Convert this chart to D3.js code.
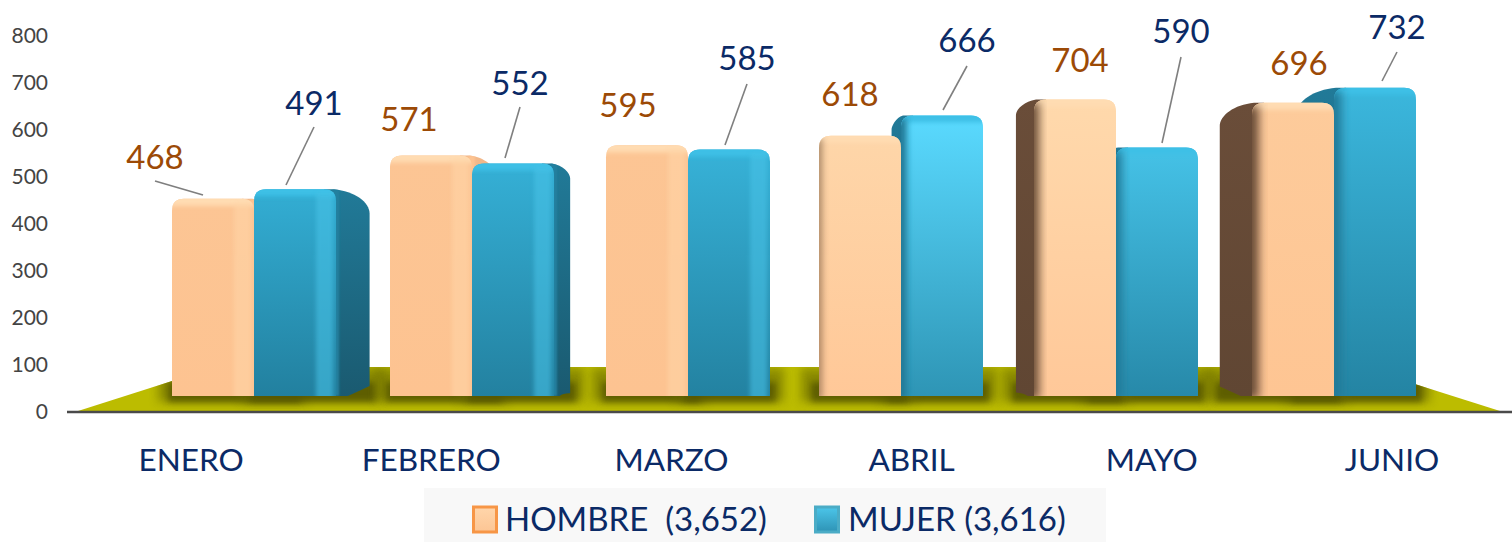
<!DOCTYPE html>
<html><head><meta charset="utf-8">
<script src="https://cdn.jsdelivr.net/npm/d3@7"></script>
<style>html,body{margin:0;background:#fff;overflow:hidden}svg{display:block}text{font-family:Lato,Carlito,sans-serif}</style>
</head><body><svg id="c" width="1512" height="542"></svg>
<script>
const months = ["ENERO","FEBRERO","MARZO","ABRIL","MAYO","JUNIO"];
const hombre = [468,571,595,618,704,696];
const mujer  = [491,552,585,666,590,732];
const yTicks = [0,100,200,300,400,500,600,700,800];
const legendLabels = ["HOMBRE  (3,652)","MUJER (3,616)"];
const hLabelPos = [[155,157],[409,119],[628,105],[850,94],[1080,60],[1299,63]];
const mLabelPos = [[314,103],[520,83],[747,58],[967,40],[1181,31],[1397,27]];
const hLeader = [[[155,181],[203,195]],null,null,null,null,null];
const mLeader = [[[314,127],[286,185]],[[520,107],[505,158]],[[747,84],[725,145]],[[967,66],[943,110]],[[1181,57],[1162,143]],[[1397,52],[1382,81]]];
const hTone = [0,0,0,0.75,0.85,0.25];
const mTone = [0,0.05,0.1,1,0.45,0.2];

const svg = d3.select("#c");
const defs = svg.append("defs");
const NAVY="#0b2a66", BROWN="#9c4a06";
const W=82, VP=756, BASE=396;

const yAxisScale = d3.scaleLinear().domain([0,800]).range([412,36]);
const barY = d3.scaleLinear().domain([0,800]).range([BASE,BASE-337]);
const band = d3.scaleBand().domain(months).range([71,1512]);
const center = d3.scaleLinear().domain(months.map(m=>band(m)+band.bandwidth()/2)).range([254,472,688,901,1116,1334]);

[["b3",3],["b5",5],["b2",2],["b1",1.2]].forEach(([id,s])=>{
  defs.append("filter").attr("id",id).attr("x","-50%").attr("y","-50%").attr("width","200%").attr("height","200%")
    .append("feGaussianBlur").attr("stdDeviation",s);
});
function vgrad(id,stops){const g=defs.append("linearGradient").attr("id",id).attr("x1",0).attr("x2",0).attr("y1",0).attr("y2",1);
  stops.forEach(([o,c])=>g.append("stop").attr("offset",o).attr("stop-color",c));return `url(#${id})`;}

// floor
const floorPath="M78,411 L216,367 L1361,367 L1500,411 Z";
svg.append("path").attr("d",floorPath).attr("fill","#bcbc00");
defs.append("clipPath").attr("id","fc").append("path").attr("d",floorPath);
const shadows = svg.append("g").attr("clip-path","url(#fc)");

svg.append("line").attr("x1",67).attr("x2",1512).attr("y1",412).attr("y2",412).attr("stroke","#4a4a4a").attr("stroke-width",2.5);

const ya = svg.append("g").attr("transform","translate(48,0)").call(d3.axisLeft(yAxisScale).tickValues(yTicks).tickSize(0).tickPadding(0));
ya.select(".domain").remove();
ya.selectAll("text").attr("font-size",21).attr("fill","#444").style("font-family","Lato");

const xa = svg.append("g").attr("transform","translate(0,446)").call(d3.axisBottom(band).tickSize(0).tickPadding(0));
xa.select(".domain").remove();
xa.selectAll("text").attr("font-size",31.5).attr("fill",NAVY).attr("dy","0.8em").attr("y",0).style("font-family","Lato");

const palette = {
  h:{face:["#fcc594","#fdc391"],lite:["#ffdcb0","#ffc99a"],strip:"#ffd6a8",top:"#ffdcb2",side:["#6a4d39","#604633"],sideLeft:["#f2b88a","#e8ad7e"]},
  m:{face:["#33aed4","#22809f"],lite:["#5adaff","#2e95b5"],strip:"#48c4e8",top:"#3cc0e6",side:["#217a98","#1a5a70"]}
};
const mix=(a,b,t)=>d3.interpolateRgb(a,b)(t);

function drawBar(g,id,x0,x1,value,tone,p){
  const top=barY(value), R=12, cx=(x0+x1)/2;
  const towardRight = cx<VP;
  const sc=(towardRight&&p.sideLeft)||p.side;
  const faceId=vgrad("f"+id,[[0,mix(p.face[0],p.lite[0],tone)],[1,mix(p.face[1],p.lite[1],tone)]]);
  const sideId=vgrad("s"+id,[[0,sc[0]],[1,sc[1]]]);
  const edge = towardRight?x1:x0;
  const back = edge+(VP-edge)*(towardRight?0.08:0.065);
  const sideW=Math.abs(back-edge), dir=towardRight?1:-1;
  const backTop=top+Math.max(sideW*0.55,8)+6, backBot=BASE-sideW*0.42;
  const lo=Math.min(x0,back), hi=Math.max(x1,back);
  shadows.append("rect").attr("x",lo-14).attr("width",hi-lo+28).attr("y",BASE-28).attr("height",34)
    .attr("fill","#6a6a00").attr("opacity",.6).attr("filter","url(#b5)");
  shadows.append("rect").attr("x",lo-4).attr("width",hi-lo+10).attr("y",BASE-14).attr("height",20)
    .attr("fill","#565600").attr("opacity",.85).attr("filter","url(#b3)");
  if(sideW>6){
    const s=d3.path();
    s.moveTo(edge-dir*R,top); s.lineTo(edge-dir*R,BASE); s.lineTo(edge+dir*sideW*0.35,BASE);
    s.quadraticCurveTo(edge+dir*sideW*0.55,BASE-3,back,backBot+4);
    s.lineTo(back,backTop);
    s.bezierCurveTo(back,backTop-sideW*0.35,edge+dir*sideW*0.55,top+2,edge-dir*2,top);
    s.closePath();
    const sd=s.toString();
    defs.append("clipPath").attr("id","sc"+id).append("path").attr("d",sd);
    g.append("path").attr("d",sd).attr("fill",sideId);
    if(towardRight){
      g.append("g").attr("clip-path",`url(#sc${id})`).append("rect").attr("x",edge-4).attr("width",7).attr("y",top).attr("height",BASE-top)
        .attr("fill",p.face[1]).attr("filter","url(#b1)");
    }
  }
  const f=d3.path();
  f.moveTo(x0,BASE); f.lineTo(x0,top+R); f.quadraticCurveTo(x0,top,x0+R,top);
  f.lineTo(x1-R,top); f.quadraticCurveTo(x1,top,x1,top+R); f.lineTo(x1,BASE); f.closePath();
  const d=f.toString();
  defs.append("clipPath").attr("id","c"+id).append("path").attr("d",d);
  g.append("path").attr("d",d).attr("fill",faceId);
  const o=g.append("g").attr("clip-path",`url(#c${id})`);
  o.append("rect").attr("x",x0-5).attr("width",x1-x0+10).attr("y",top-4).attr("height",11).attr("fill",p.top).attr("filter","url(#b2)");
  if(towardRight){
    o.append("rect").attr("x",x1-20).attr("width",17).attr("y",top+4).attr("height",BASE-top).attr("fill",p.strip).attr("opacity",.55).attr("filter","url(#b2)");
  } else if(sideW>3){
    const wide=sideW>12;
    o.append("rect").attr("x",x0-10).attr("width",10+(wide?sideW*0.12+3:sideW*0.4+2)).attr("y",top+3).attr("height",BASE-top)
      .attr("fill",p.side[0]).attr("opacity",sideW>6?1:.5).attr("filter",wide?"url(#b5)":"url(#b3)");
  }
}

const bars=svg.append("g");
months.forEach((m,i)=>{
  const c=center(band(m)+band.bandwidth()/2);
  const gh=()=>drawBar(bars.append("g"),"h"+i,c-W,c,hombre[i],hTone[i],palette.h);
  const gm=()=>drawBar(bars.append("g"),"m"+i,c,c+W,mujer[i],mTone[i],palette.m);
  if(c<VP){gh();gm();} else {gm();gh();}
});

function labels(vals,pos,lead,color){
  const g=svg.append("g");
  g.selectAll("line").data(lead.filter(Boolean)).join("line")
    .attr("x1",d=>d[0][0]).attr("y1",d=>d[0][1]).attr("x2",d=>d[1][0]).attr("y2",d=>d[1][1])
    .attr("stroke","#7f7f7f").attr("stroke-width",1.6);
  g.selectAll("text").data(vals).join("text").text(d=>d)
    .attr("x",(d,i)=>pos[i][0]).attr("y",(d,i)=>pos[i][1]+12).attr("text-anchor","middle")
    .attr("font-size",33).attr("fill",color);
}
labels(hombre,hLabelPos,hLeader,BROWN);
labels(mujer,mLabelPos,mLeader,NAVY);

svg.append("rect").attr("x",424).attr("y",488).attr("width",682).attr("height",54).attr("fill","#f8f8f8");
const sw=[[472,"#f79646",["#ffd6ab","#fcc594"]],[814,"#4bacc6",["#4cc6ea","#2e93b5"]]];
sw.forEach(([x,bc,st],i)=>{
  svg.append("rect").attr("x",x+1.5).attr("y",507).attr("width",23).attr("height",25)
    .attr("fill",vgrad("lg"+i,[[0,st[0]],[1,st[1]]])).attr("stroke",bc).attr("stroke-width",3);
});
svg.selectAll(".lg").data(legendLabels).join("text").attr("class","lg").text(d=>d)
  .attr("x",(d,i)=>[505,848][i]).attr("y",531).attr("font-size",33).attr("fill",NAVY).style("white-space","pre");
</script></body></html>
